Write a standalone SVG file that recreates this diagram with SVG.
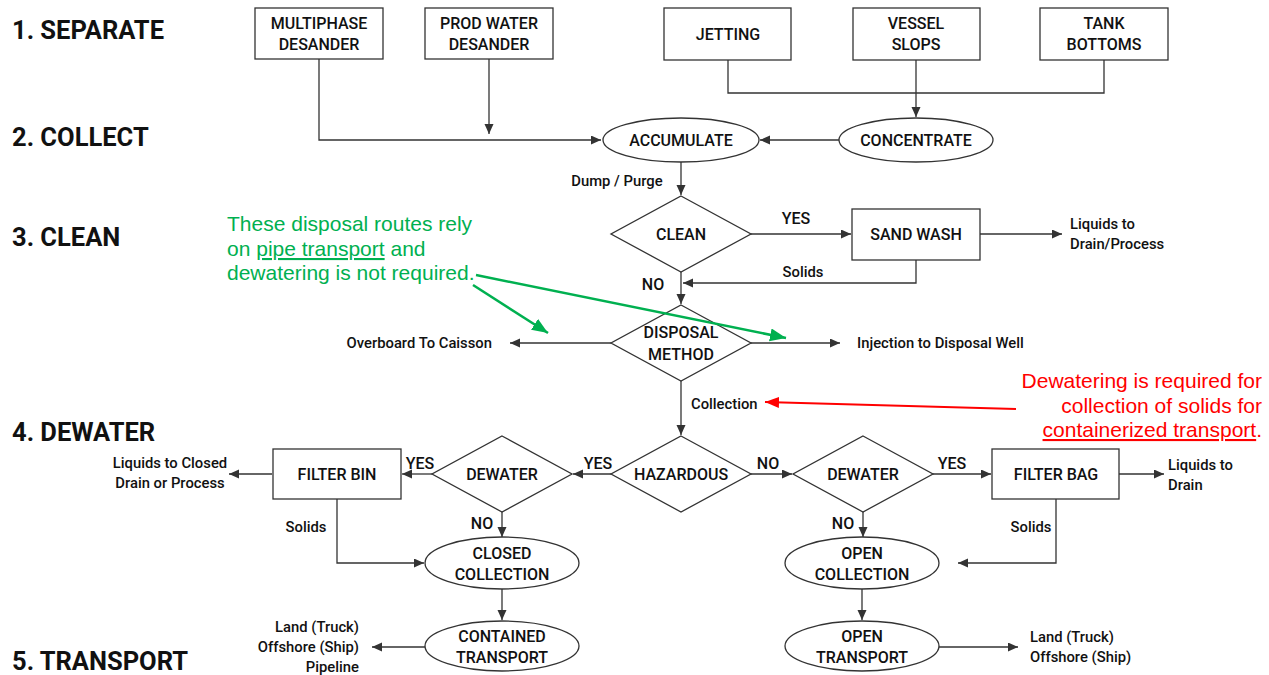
<svg xmlns="http://www.w3.org/2000/svg" width="1269" height="675" viewBox="0 0 1269 675">
<defs>
<marker id="ah" markerUnits="userSpaceOnUse" markerWidth="11" markerHeight="10" refX="10" refY="4.5" orient="auto">
<path d="M0,0 L10,4.5 L0,9 z" fill="#333"/>
</marker>
<marker id="ahg" markerUnits="userSpaceOnUse" markerWidth="18" markerHeight="14" refX="16" refY="6.5" orient="auto">
<path d="M0,0 L16,6.5 L0,13 z" fill="#00B050"/>
</marker>
<marker id="ahr" markerUnits="userSpaceOnUse" markerWidth="16" markerHeight="12" refX="14" refY="5.5" orient="auto">
<path d="M0,0 L14,5.5 L0,11 z" fill="#FF0000"/>
</marker>
</defs>
<style>
.h{font-family:Roboto,"Liberation Sans",sans-serif;font-weight:700;font-size:25.5px;fill:#111}
.n{font-family:Roboto,"Liberation Sans",sans-serif;font-weight:500;font-size:16px;fill:#111;text-anchor:middle}
.s{font-family:Roboto,"Liberation Sans",sans-serif;font-weight:500;font-size:14.8px;fill:#111}
.y{font-size:16px}
.m{text-anchor:middle}
.e{text-anchor:end}
.shape{fill:#fff;stroke:#333;stroke-width:1.3}
.c{fill:none;stroke:#333;stroke-width:1.3}
.ga{font-family:"Liberation Sans",Arial,sans-serif;font-size:21px;fill:#00B050}
.ra{font-family:"Liberation Sans",Arial,sans-serif;font-size:21px;fill:#FF0000}
</style>
<g id="headings">
<text class="h" x="12" y="39">1. SEPARATE</text>
<text class="h" x="12" y="146">2. COLLECT</text>
<text class="h" x="12" y="246">3. CLEAN</text>
<text class="h" x="12" y="441">4. DEWATER</text>
<text class="h" x="12" y="670">5. TRANSPORT</text>
</g>
<g id="connectors">
<polyline class="c" points="319,59 319,140 601,140" marker-end="url(#ah)"/>
<line class="c" x1="489" y1="59" x2="489" y2="134" marker-end="url(#ah)"/>
<polyline class="c" points="728,60 728,93 1104,93 1104,60"/>
<line class="c" x1="916" y1="60" x2="916" y2="117" marker-end="url(#ah)"/>
<line class="c" x1="839" y1="140" x2="760" y2="140" marker-end="url(#ah)"/>
<line class="c" x1="681" y1="162" x2="681" y2="195" marker-end="url(#ah)"/>
<line class="c" x1="751" y1="234" x2="851" y2="234" marker-end="url(#ah)"/>
<line class="c" x1="980" y1="234" x2="1062" y2="234" marker-end="url(#ah)"/>
<polyline class="c" points="916,260 916,283 683,283" marker-end="url(#ah)"/>
<line class="c" x1="681" y1="272" x2="681" y2="304" marker-end="url(#ah)"/>
<line class="c" x1="611" y1="343" x2="510" y2="343" marker-end="url(#ah)"/>
<line class="c" x1="751" y1="343" x2="840" y2="343" marker-end="url(#ah)"/>
<line class="c" x1="681" y1="381" x2="681" y2="435" marker-end="url(#ah)"/>
<line class="c" x1="611" y1="474" x2="573" y2="474" marker-end="url(#ah)"/>
<line class="c" x1="432" y1="474" x2="402" y2="474" marker-end="url(#ah)"/>
<line class="c" x1="272" y1="474" x2="229" y2="474" marker-end="url(#ah)"/>
<polyline class="c" points="337,499 337,563 424,563" marker-end="url(#ah)"/>
<line class="c" x1="502" y1="512" x2="502" y2="537" marker-end="url(#ah)"/>
<line class="c" x1="502" y1="589" x2="502" y2="620" marker-end="url(#ah)"/>
<line class="c" x1="425" y1="647" x2="372" y2="647" marker-end="url(#ah)"/>
<line class="c" x1="751" y1="474" x2="792" y2="474" marker-end="url(#ah)"/>
<line class="c" x1="933" y1="474" x2="991" y2="474" marker-end="url(#ah)"/>
<line class="c" x1="1119" y1="474" x2="1164" y2="474" marker-end="url(#ah)"/>
<polyline class="c" points="1056,499 1056,563 958,563" marker-end="url(#ah)"/>
<line class="c" x1="863" y1="512" x2="863" y2="537" marker-end="url(#ah)"/>
<line class="c" x1="862" y1="589" x2="862" y2="620" marker-end="url(#ah)"/>
<line class="c" x1="939" y1="647" x2="1018" y2="647" marker-end="url(#ah)"/>
<text class="s m" x="617" y="186">Dump / Purge</text>
<text class="s m y" x="796" y="224">YES</text>
<text class="s m" x="803" y="277">Solids</text>
<text class="s m y" x="653" y="290">NO</text>
<text class="s e" x="492" y="348">Overboard  To Caisson</text>
<text class="s" x="857" y="348">Injection to Disposal Well</text>
<text class="s" x="691" y="409">Collection</text>
<text class="s" x="1070" y="229">Liquids to</text>
<text class="s" x="1070" y="249">Drain/Process</text>
<text class="s m y" x="598" y="469">YES</text>
<text class="s m y" x="420" y="469">YES</text>
<text class="s m y" x="768" y="469">NO</text>
<text class="s m y" x="952" y="469">YES</text>
<text class="s m" x="170" y="468">Liquids to Closed</text>
<text class="s m" x="170" y="488">Drain or Process</text>
<text class="s m" x="306" y="532">Solids</text>
<text class="s m y" x="482" y="529">NO</text>
<text class="s m y" x="843" y="529">NO</text>
<text class="s m" x="1031" y="532">Solids</text>
<text class="s" x="1168" y="470">Liquids to</text>
<text class="s" x="1168" y="490">Drain</text>
<text class="s e" x="359" y="632">Land (Truck)</text>
<text class="s e" x="359" y="652">Offshore (Ship)</text>
<text class="s e" x="359" y="672">Pipeline</text>
<text class="s" x="1030" y="642">Land (Truck)</text>
<text class="s" x="1030" y="662">Offshore (Ship)</text>
</g>
<g id="multiphase"><rect class="shape" x="255" y="8" width="128" height="51"/><text class="n" x="319" y="29">MULTIPHASE</text><text class="n" x="319" y="50">DESANDER</text></g>
<g id="prodwater"><rect class="shape" x="425" y="8" width="128" height="51"/><text class="n" x="489" y="29">PROD WATER</text><text class="n" x="489" y="50">DESANDER</text></g>
<g id="jetting"><rect class="shape" x="664" y="8" width="127" height="52"/><text class="n" x="728" y="40">JETTING</text></g>
<g id="vesselslops"><rect class="shape" x="853" y="8" width="127" height="52"/><text class="n" x="916" y="29">VESSEL</text><text class="n" x="916" y="50">SLOPS</text></g>
<g id="tankbottoms"><rect class="shape" x="1040" y="8" width="128" height="52"/><text class="n" x="1104" y="29">TANK</text><text class="n" x="1104" y="50">BOTTOMS</text></g>
<g id="accumulate"><ellipse class="shape" cx="681" cy="140" rx="78" ry="22"/><text class="n" x="681" y="146">ACCUMULATE</text></g>
<g id="concentrate"><ellipse class="shape" cx="916" cy="140" rx="77" ry="22"/><text class="n" x="916" y="146">CONCENTRATE</text></g>
<g id="clean"><polygon class="shape" points="681,196 751,234 681,272 611,234"/><text class="n" x="681" y="240">CLEAN</text></g>
<g id="sandwash"><rect class="shape" x="852" y="209" width="128" height="51"/><text class="n" x="916" y="240">SAND WASH</text></g>
<g id="disposal"><polygon class="shape" points="681,305 751,343 681,381 611,343"/><text class="n" x="681" y="338">DISPOSAL</text><text class="n" x="681" y="360">METHOD</text></g>
<g id="hazardous"><polygon class="shape" points="681,436 751,474 681,512 611,474"/><text class="n" x="681" y="480">HAZARDOUS</text></g>
<g id="dewater-left"><polygon class="shape" points="502,436 572,474 502,512 432,474"/><text class="n" x="502" y="480">DEWATER</text></g>
<g id="dewater-right"><polygon class="shape" points="863,436 933,474 863,512 793,474"/><text class="n" x="863" y="480">DEWATER</text></g>
<g id="filterbin"><rect class="shape" x="273" y="449" width="128" height="50"/><text class="n" x="337" y="480">FILTER BIN</text></g>
<g id="filterbag"><rect class="shape" x="992" y="449" width="127" height="50"/><text class="n" x="1056" y="480">FILTER BAG</text></g>
<g id="closedcollection"><ellipse class="shape" cx="502" cy="563" rx="77" ry="26"/><text class="n" x="502" y="559">CLOSED</text><text class="n" x="502" y="580">COLLECTION</text></g>
<g id="containedtransport"><ellipse class="shape" cx="502" cy="646" rx="77" ry="25"/><text class="n" x="502" y="642">CONTAINED</text><text class="n" x="502" y="663">TRANSPORT</text></g>
<g id="opencollection"><ellipse class="shape" cx="862" cy="563" rx="77" ry="26"/><text class="n" x="862" y="559">OPEN</text><text class="n" x="862" y="580">COLLECTION</text></g>
<g id="opentransport"><ellipse class="shape" cx="862" cy="646" rx="77" ry="25"/><text class="n" x="862" y="642">OPEN</text><text class="n" x="862" y="663">TRANSPORT</text></g>
<g id="green-note">
<text class="ga" x="227" y="231">These disposal routes rely</text>
<text class="ga" x="227" y="256">on <tspan text-decoration="underline">pipe transport</tspan> and</text>
<text class="ga" x="227" y="280">dewatering is not required.</text>
<line x1="473" y1="285" x2="548" y2="333" stroke="#00B050" stroke-width="2.5" marker-end="url(#ahg)"/>
<line x1="476" y1="275" x2="786" y2="338" stroke="#00B050" stroke-width="2.5" marker-end="url(#ahg)"/>
</g>
<g id="red-note">
<text class="ra" x="1262" y="388" text-anchor="end">Dewatering is required for</text>
<text class="ra" x="1262" y="413" text-anchor="end">collection of solids for</text>
<text class="ra" x="1262" y="437" text-anchor="end"><tspan text-decoration="underline">containerized transport</tspan>.</text>
<line x1="1016" y1="409" x2="765" y2="402" stroke="#FF0000" stroke-width="2" marker-end="url(#ahr)"/>
</g>
</svg>
